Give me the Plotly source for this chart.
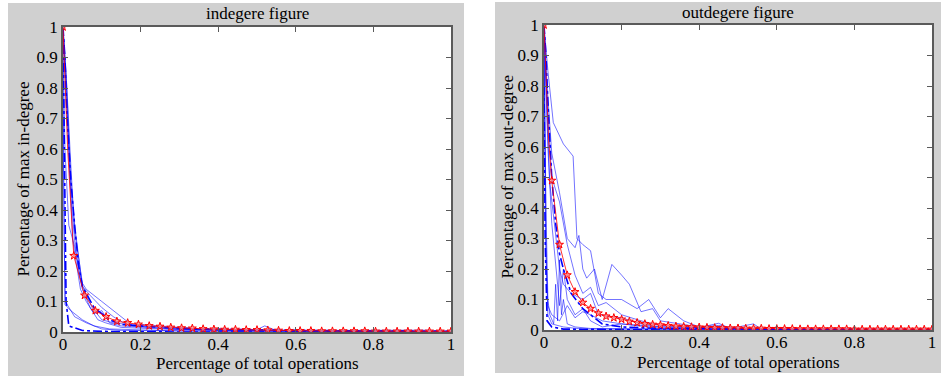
import plotly.graph_objects as go

# ---------------- data: in-degree panel ----------------
in_a_x = [0, 0.01, 0.02, 0.03, 0.05, 0.06, 0.10, 0.14, 0.18, 0.25, 0.30, 0.50, 0.52, 0.55, 1.0]
in_a_y = [1, 0.80, 0.55, 0.33, 0.16, 0.14, 0.10, 0.06, 0.02, 0.015, 0.01, 0.008, 0.02, 0.005, 0.003]
in_b_x = [0, 0.008, 0.02, 0.03, 0.05, 0.07, 0.10, 0.13, 0.17, 0.20, 0.25, 0.35, 0.60, 0.93, 1.0]
in_b_y = [1, 0.85, 0.50, 0.35, 0.15, 0.12, 0.08, 0.05, 0.02, 0.025, 0.02, 0.01, 0.005, 0.006, 0.003]
in_c_x = [0, 0.01, 0.025, 0.045, 0.06, 0.08, 0.10, 0.12, 0.15, 0.30, 1.0]
in_c_y = [1, 0.75, 0.30, 0.14, 0.10, 0.06, 0.07, 0.03, 0.02, 0.008, 0.002]
in_d_x = [0, 0.005, 0.015, 0.03, 0.05, 0.075, 0.10, 0.13, 0.20, 0.40, 1.0]
in_d_y = [0.95, 0.60, 0.35, 0.28, 0.15, 0.08, 0.04, 0.03, 0.02, 0.005, 0.0]
in_e_x = [0, 0.003, 0.006, 0.03, 0.06, 0.10, 0.15, 1.0]
in_e_y = [0.90, 0.30, 0.10, 0.05, 0.03, 0.01, 0.005, 0.0]
in_f_x = [0, 0.003, 0.005, 0.02, 0.05, 0.08, 0.12, 0.30, 1.0]
in_f_y = [0.70, 0.20, 0.09, 0.07, 0.04, 0.02, 0.01, 0.003, 0.0]
in_i_x = [0, 0.01, 0.02, 0.03, 0.04, 0.05, 0.07, 0.09, 0.11, 0.15, 0.25, 0.40, 1.0]
in_i_y = [1, 0.70, 0.45, 0.30, 0.20, 0.14, 0.08, 0.04, 0.03, 0.015, 0.01, 0.006, 0.001]
in_g_x = [0, 0.004, 0.008, 0.015, 0.05, 0.10, 0.20, 0.30, 1.0]
in_g_y = [1, 0.50, 0.10, 0.02, 0.005, 0.002, 0.001, 0.0, 0.0]
in_h_x = [0, 0.005, 0.01, 0.02, 0.03, 0.04, 0.05, 0.08, 0.10, 0.12, 0.15, 0.20, 0.25, 0.35, 0.50, 0.70, 1.0]
in_h_y = [1, 0.90, 0.72, 0.50, 0.35, 0.22, 0.15, 0.08, 0.06, 0.04, 0.025, 0.02, 0.015, 0.01, 0.007, 0.004, 0.002]

in_mean_head_x = [0, 0.005, 0.012, 0.02]
in_mean_head_y = [1, 0.85, 0.60, 0.42]
in_mean_k = list(range(37))          # markers at k/36
in_mean_y = [1, 0.25, 0.12, 0.07, 0.05, 0.035, 0.03, 0.025, 0.02, 0.018, 0.015, 0.013,
             0.012, 0.01, 0.009, 0.008, 0.008, 0.007, 0.007, 0.006, 0.005, 0.004, 0.004,
             0.004, 0.003, 0.003, 0.003, 0.003, 0.003, 0.002, 0.002, 0.002, 0.002, 0.002,
             0.002, 0.002, 0.002]

# ---------------- data: out-degree panel ----------------
out_p_x = [0, 0.01, 0.024, 0.05, 0.075, 0.085, 0.10, 0.12, 0.14, 0.16, 0.20, 0.24, 0.27, 0.30, 0.32, 0.36, 0.40, 0.45, 0.50, 1.0]
out_p_y = [1, 0.85, 0.68, 0.61, 0.57, 0.30, 0.28, 0.26, 0.12, 0.10, 0.10, 0.07, 0.10, 0.04, 0.07, 0.03, 0.01, 0.015, 0.005, 0.002]
out_q_x = [0, 0.008, 0.02, 0.04, 0.06, 0.08, 0.09, 0.10, 0.11, 0.13, 0.15, 0.175, 0.20, 0.22, 0.25, 0.28, 0.30, 0.35, 0.40, 0.45, 1.0]
out_q_y = [1, 0.80, 0.58, 0.45, 0.30, 0.27, 0.31, 0.20, 0.17, 0.20, 0.10, 0.215, 0.18, 0.15, 0.06, 0.07, 0.03, 0.02, 0.01, 0.005, 0.001]
out_r_x = [0, 0.01, 0.02, 0.04, 0.06, 0.08, 0.10, 0.12, 0.14, 0.16, 0.20, 0.25, 0.30, 0.40, 0.45, 0.48, 0.54, 0.56, 1.0]
out_r_y = [1, 0.70, 0.50, 0.42, 0.28, 0.18, 0.12, 0.14, 0.08, 0.09, 0.05, 0.03, 0.015, 0.008, 0.022, 0.005, 0.02, 0.003, 0.002]
out_s_x = [0, 0.005, 0.015, 0.03, 0.04, 0.05, 0.07, 0.10, 0.12, 0.14, 0.20, 0.25, 0.30, 0.50, 1.0]
out_s_y = [1, 0.80, 0.48, 0.30, 0.20, 0.15, 0.12, 0.10, 0.12, 0.05, 0.04, 0.02, 0.01, 0.005, 0.001]
out_t_x = [0, 0.005, 0.01, 0.015, 0.025, 0.03, 0.035, 0.04, 0.045, 0.05, 0.06, 0.08, 0.12, 1.0]
out_t_y = [0.95, 0.40, 0.10, 0.05, 0.02, 0.15, 0.03, 0.23, 0.05, 0.10, 0.02, 0.01, 0.005, 0.0]
out_u_x = [0, 0.004, 0.01, 0.02, 0.04, 0.06, 0.08, 0.10, 0.12, 0.15, 0.20, 0.30, 1.0]
out_u_y = [0.90, 0.30, 0.08, 0.05, 0.03, 0.08, 0.04, 0.06, 0.05, 0.03, 0.02, 0.01, 0.0]
out_v_x = [0, 0.003, 0.006, 0.01, 0.02, 0.05, 0.10, 1.0]
out_v_y = [1, 0.60, 0.20, 0.05, 0.02, 0.01, 0.003, 0.0]
out_x_x = [0, 0.01, 0.02, 0.03, 0.035, 0.04, 0.05, 0.06, 0.08, 0.10, 0.12, 0.15, 0.20, 0.30, 1.0]
out_x_y = [1, 0.60, 0.35, 0.20, 0.15, 0.08, 0.20, 0.10, 0.05, 0.07, 0.03, 0.01, 0.02, 0.005, 0.0]
out_w_x = [0, 0.005, 0.01, 0.02, 0.03, 0.04, 0.05, 0.07, 0.10, 0.13, 0.15, 0.20, 0.30, 1.0]
out_w_y = [1, 0.90, 0.75, 0.50, 0.35, 0.25, 0.20, 0.12, 0.07, 0.04, 0.02, 0.01, 0.005, 0.002]
out_y_x = [0, 0.003, 0.008, 0.02, 0.05, 0.15, 0.30, 1.0]
out_y_y = [0.80, 0.30, 0.03, 0.01, 0.003, 0.002, 0.0, 0.0]

out_mean_head_x = [0, 0.006, 0.012]
out_mean_head_y = [1, 0.80, 0.62]
out_mean_k = list(range(51))         # markers at k/50
out_mean_y = [1, 0.49, 0.28, 0.18, 0.125, 0.09, 0.07, 0.055, 0.045, 0.04, 0.035, 0.028,
              0.024, 0.02, 0.018, 0.016, 0.014, 0.012, 0.011, 0.01, 0.009, 0.008, 0.007,
              0.007, 0.006, 0.006, 0.005, 0.005, 0.005, 0.004, 0.004, 0.004, 0.004, 0.003,
              0.003, 0.003, 0.003, 0.003, 0.003, 0.003, 0.002, 0.002, 0.002, 0.002, 0.002,
              0.002, 0.002, 0.002, 0.002, 0.002, 0.002]

x_ticks = [0, 0.2, 0.4, 0.6, 0.8, 1]
x_tick_labels = ["0", "0.2", "0.4", "0.6", "0.8", "1"]
y_ticks = [0, 0.1, 0.2, 0.3, 0.4, 0.5, 0.6, 0.7, 0.8, 0.9, 1]
y_tick_labels = ["0", "0.1", "0.2", "0.3", "0.4", "0.5", "0.6", "0.7", "0.8", "0.9", "1"]

# ---------------- figure ----------------
W, H = 941, 378
FONT = "Liberation Serif, Times New Roman, serif"
LIGHT = dict(color="rgba(0,0,255,0.55)", width=1)
DARK = dict(color="rgb(0,0,255)", width=1.6, dash="dashdot")
GRAY = "#d0d0d0"

fig = go.Figure()


def add_blue(xs, ys, xa, ya, line):
    fig.add_trace(go.Scatter(x=xs, y=ys, mode="lines", line=line, xaxis=xa, yaxis=ya,
                             showlegend=False, hoverinfo="skip"))


def add_mean(head_x, head_y, k, ys, n, xa, ya):
    mx = [i / n for i in k]
    fig.add_trace(go.Scatter(x=head_x + mx[1:], y=head_y + ys[1:], mode="lines",
                             line=dict(color="rgba(255,0,0,0.8)", width=1),
                             xaxis=xa, yaxis=ya, showlegend=False, hoverinfo="skip"))
    fig.add_trace(go.Scatter(x=mx, y=ys, mode="markers", xaxis=xa, yaxis=ya,
                             marker=dict(symbol="star", size=6, color="rgba(255,150,150,0.7)",
                                         line=dict(color="red", width=1)),
                             showlegend=False, hoverinfo="skip"))


for xs, ys in [(in_a_x, in_a_y), (in_b_x, in_b_y), (in_c_x, in_c_y), (in_d_x, in_d_y),
               (in_e_x, in_e_y), (in_f_x, in_f_y), (in_i_x, in_i_y)]:
    add_blue(xs, ys, "x", "y", LIGHT)
add_blue(in_g_x, in_g_y, "x", "y", DARK)
add_blue(in_h_x, in_h_y, "x", "y", DARK)
add_mean(in_mean_head_x, in_mean_head_y, in_mean_k, in_mean_y, 36, "x", "y")

for xs, ys in [(out_p_x, out_p_y), (out_q_x, out_q_y), (out_r_x, out_r_y), (out_s_x, out_s_y),
               (out_t_x, out_t_y), (out_u_x, out_u_y), (out_v_x, out_v_y), (out_x_x, out_x_y)]:
    add_blue(xs, ys, "x2", "y2", LIGHT)
add_blue(out_w_x, out_w_y, "x2", "y2", DARK)
add_blue(out_y_x, out_y_y, "x2", "y2", DARK)
add_mean(out_mean_head_x, out_mean_head_y, out_mean_k, out_mean_y, 50, "x2", "y2")

axis_common = dict(range=[0, 1], showgrid=False, zeroline=False, showline=True, mirror="ticks",
                   linecolor="#5a5a5a", linewidth=1.5, ticks="inside", ticklen=5,
                   tickcolor="#5a5a5a", tickfont=dict(family=FONT, size=17, color="black"),
                   fixedrange=True, automargin=False)

L0, L1 = 63 / W, 451 / W
R0, R1 = 544 / W, 932 / W
LB, LT = 1 - 332 / H, 1 - 27 / H
RB, RT = 1 - 330 / H, 1 - 25 / H

fig.update_layout(
    width=W, height=H, autosize=False,
    margin=dict(l=0, r=0, t=0, b=0, pad=0, autoexpand=False),
    paper_bgcolor="white", plot_bgcolor="white",
    xaxis=dict(domain=[L0, L1], anchor="y", tickvals=x_ticks, ticktext=x_tick_labels,
               ticklabelstandoff=-4, **axis_common),
    yaxis=dict(domain=[LB, LT], anchor="x", tickvals=y_ticks, ticktext=y_tick_labels, **axis_common),
    xaxis2=dict(domain=[R0, R1], anchor="y2", tickvals=x_ticks, ticktext=x_tick_labels,
                ticklabelstandoff=-4, **axis_common),
    yaxis2=dict(domain=[RB, RT], anchor="x2", tickvals=y_ticks, ticktext=y_tick_labels, **axis_common),
    shapes=[
        dict(type="rect", xref="paper", yref="paper", x0=8 / W, x1=464 / W,
             y0=1 - 376 / H, y1=1 - 3 / H, fillcolor=GRAY, line_width=0, layer="below"),
        dict(type="rect", xref="paper", yref="paper", x0=495 / W, x1=1.0,
             y0=1 - 373 / H, y1=1 - 2 / H, fillcolor=GRAY, line_width=0, layer="below"),
        dict(type="rect", xref="x domain", yref="y domain", x0=0, x1=1, y0=0, y1=1,
             fillcolor="white", line_width=0, layer="below"),
        dict(type="rect", xref="x2 domain", yref="y2 domain", x0=0, x1=1, y0=0, y1=1,
             fillcolor="white", line_width=0, layer="below"),
    ],
)

tf = dict(family=FONT, size=17, color="black")
ann = [
    dict(text="indegere figure", x=(L0 + L1) / 2, y=1 - 13 / H),
    dict(text="outdegere figure", x=(R0 + R1) / 2, y=1 - 12 / H),
    dict(text="Percentage of total operations", x=(L0 + L1) / 2, y=1 - 363 / H),
    dict(text="Percentage of total operations", x=(R0 + R1) / 2, y=1 - 362 / H),
    dict(text="Percentage of max in-degree", x=23 / W, y=(LB + LT) / 2, textangle=-90),
    dict(text="Percentage of max out-degree", x=507 / W, y=(RB + RT) / 2, textangle=-90),
]
for a in ann:
    fig.add_annotation(xref="paper", yref="paper", showarrow=False, font=tf,
                       xanchor="center", yanchor="middle", **a)

fig.write_html("out.html", config={"displayModeBar": False},
               post_script="document.body.style.margin='0';")
